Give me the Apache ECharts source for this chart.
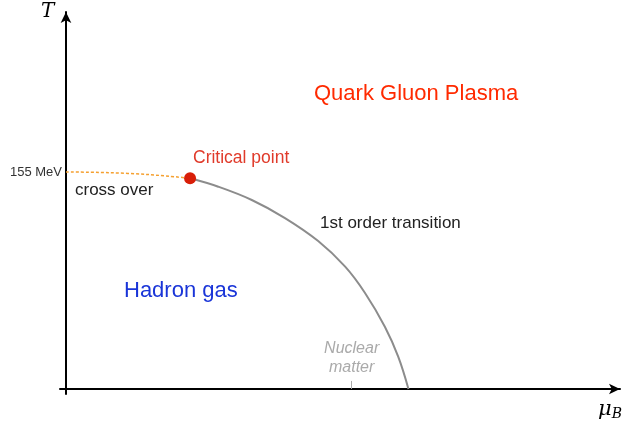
<!DOCTYPE html>
<html>
<head>
<meta charset="utf-8">
<script src="https://cdn.jsdelivr.net/npm/echarts@6/dist/echarts.min.js"></script>
<style>
  html, body { margin: 0; padding: 0; background: #fff; }
  #chart { width: 623px; height: 425px; }
</style>
</head>
<body>
<div id="chart"></div>
<script>
// μ_B (MeV) and T (MeV)
const firstOrderLine = [
  [400, 150.5], [491, 144.5], [599, 135], [706, 122.1], [813, 105.7],
  [900, 87.4], [964, 68.6], [1028, 44.5], [1071, 23.1], [1104, 0]
]
const crossOverLine = [[0, 155], [200, 154], [400, 150.5]]
const criticalPoint = [[400, 150.5]]
const tcTicks = [155]
const nuclearTicks = [921]

const chart = echarts.init(document.getElementById('chart'))
const font = '"Liberation Sans", Arial, sans-serif'

chart.setOption({
  animation: false,
  grid: { left: 60, right: 3, top: 12, bottom: 31 },
  xAxis: {
    type: 'value',
    min: -19.3,
    max: 1786,
    splitLine: { show: false },
    axisLine: {
      onZero: true,
      symbol: ['none', 'arrow'],
      symbolSize: [8, 11],
      lineStyle: { color: '#000', width: 2 },
    },
    axisTick: {
      show: true,
      customValues: nuclearTicks,
      inside: true,
      length: 8,
      lineStyle: { color: '#aaa', width: 1 },
    },
    axisLabel: {
      show: true,
      customValues: nuclearTicks,
      inside: true,
      margin: 17,
      formatter: () => 'Nuclear\nmatter',
      fontFamily: font,
      fontStyle: 'italic',
      fontSize: 16,
      lineHeight: 19,
      color: '#aaa',
    },
  },
  yAxis: {
    type: 'value',
    min: -3.6,
    max: 269.3,
    splitLine: { show: false },
    axisLine: {
      onZero: true,
      symbol: ['none', 'arrow'],
      symbolSize: [8, 11],
      lineStyle: { color: '#000', width: 2 },
    },
    axisTick: { show: false },
    axisLabel: {
      show: true,
      customValues: tcTicks,
      margin: -2,
      formatter: '{value} MeV',
      fontFamily: font,
      fontSize: 13,
      color: '#333',
    },
  },
  series: [
    {
      type: 'line',
      data: crossOverLine,
      smooth: true,
      symbol: 'none',
      lineStyle: { color: '#f5a030', width: 1.5, type: [3, 2] },
      z: 2,
    },
    {
      type: 'line',
      data: firstOrderLine,
      smooth: 0.4,
      symbol: 'none',
      lineStyle: { color: '#8c8c8c', width: 2 },
      z: 2,
    },
    {
      type: 'scatter',
      data: criticalPoint,
      symbolSize: 12,
      itemStyle: { color: '#d81e08', opacity: 1 },
      z: 5,
    },
  ],
  graphic: [
    { type: 'text', left: 41, top: 2, style: { text: 'T', font: 'italic 20px "DejaVu Serif", serif', fill: '#000' } },
    {
      type: 'text', left: 598, top: 399,
      style: {
        text: '{m|μ}{b|B}',
        rich: {
          m: { font: 'italic 21px "DejaVu Serif", serif', fill: '#000' },
          b: { font: 'italic 14px "DejaVu Serif", serif', fill: '#000', padding: [10, 0, 0, 0] },
        },
      },
    },
    { type: 'text', left: 75, top: 181.5, style: { text: 'cross over', font: '17px ' + font, fill: '#222' } },
    { type: 'text', left: 193, top: 149, style: { text: 'Critical point', font: '17.5px ' + font, fill: '#e03a2a' } },
    { type: 'text', left: 314, top: 83, style: { text: 'Quark Gluon Plasma', font: '22px ' + font, fill: '#ff2a00' } },
    { type: 'text', left: 320, top: 214.5, style: { text: '1st order transition', font: '17px ' + font, fill: '#222' } },
    { type: 'text', left: 124, top: 280, style: { text: 'Hadron gas', font: '22px ' + font, fill: '#1a35d8' } },
  ],
})
</script>
</body>
</html>
